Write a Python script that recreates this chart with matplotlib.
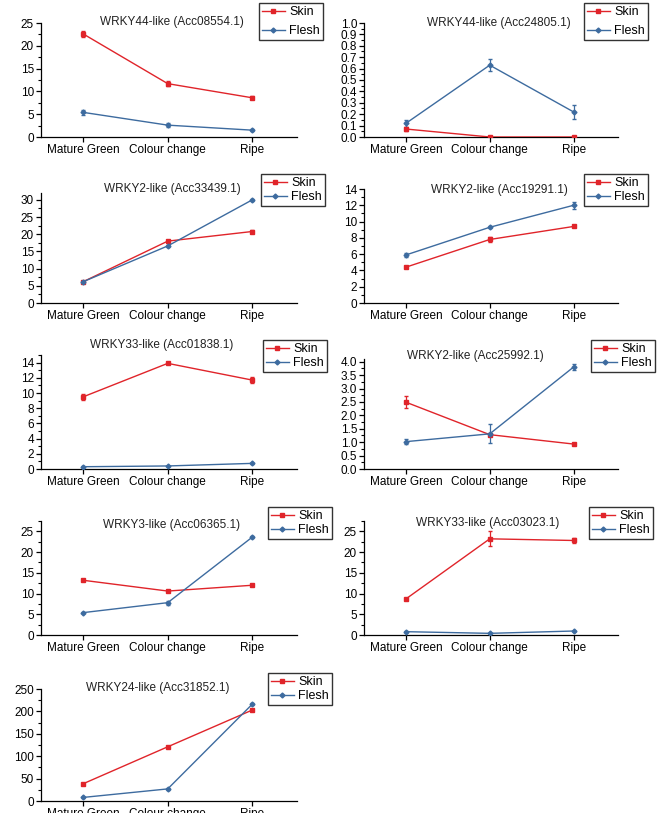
import matplotlib
matplotlib.use("Agg")
import matplotlib.pyplot as plt
from matplotlib.lines import Line2D
from matplotlib.ticker import MultipleLocator, FormatStrFormatter

plt.rcParams['font.family'] = ['Liberation Sans', 'DejaVu Sans']

W, H = 664, 813

stages = ["Mature Green", "Colour change", "Ripe"]

# Expression per gene: skin / flesh means and error bars
titles = [
    "WRKY44-like (Acc08554.1)", "WRKY44-like (Acc24805.1)",
    "WRKY2-like (Acc33439.1)", "WRKY2-like (Acc19291.1)",
    "WRKY33-like (Acc01838.1)", "WRKY2-like (Acc25992.1)",
    "WRKY3-like (Acc06365.1)", "WRKY33-like (Acc03023.1)",
    "WRKY24-like (Acc31852.1)",
]

skin_1 = [22.6, 11.7, 8.6]
skin_err_1 = [0.6, 0.6, 0.3]
flesh_1 = [5.4, 2.6, 1.5]
flesh_err_1 = [0.5, 0.5, 0.2]

skin_2 = [0.07, 0.0, 0.0]
skin_err_2 = [0.02, 0.0, 0.0]
flesh_2 = [0.12, 0.63, 0.22]
flesh_err_2 = [0.03, 0.05, 0.06]

skin_3 = [6.2, 18.0, 20.8]
skin_err_3 = [0.3, 0.4, 0.5]
flesh_3 = [6.2, 16.6, 30.0]
flesh_err_3 = [0.2, 0.3, 0.2]

skin_4 = [4.4, 7.8, 9.4]
skin_err_4 = [0.15, 0.3, 0.1]
flesh_4 = [5.9, 9.3, 12.0]
flesh_err_4 = [0.2, 0.1, 0.4]

skin_5 = [9.5, 13.9, 11.7]
skin_err_5 = [0.4, 0.15, 0.35]
flesh_5 = [0.3, 0.4, 0.74]
flesh_err_5 = [0.05, 0.05, 0.05]

skin_6 = [2.49, 1.28, 0.93]
skin_err_6 = [0.23, 0.05, 0.04]
flesh_6 = [1.02, 1.31, 3.80]
flesh_err_6 = [0.08, 0.35, 0.1]

skin_7 = [13.2, 10.6, 12.0]
skin_err_7 = [0.2, 0.3, 0.2]
flesh_7 = [5.4, 7.8, 23.6]
flesh_err_7 = [0.2, 0.5, 0.3]

skin_8 = [8.7, 23.2, 22.8]
skin_err_8 = [0.2, 1.8, 0.5]
flesh_8 = [0.8, 0.4, 0.96]
flesh_err_8 = [0.05, 0.05, 0.05]

skin_9 = [38.6, 121.0, 203.0]
skin_err_9 = [2.0, 2.0, 3.0]
flesh_9 = [8.0, 27.0, 216.0]
flesh_err_9 = [1.0, 2.0, 2.0]

skins = [skin_1, skin_2, skin_3, skin_4, skin_5, skin_6, skin_7, skin_8, skin_9]
skin_errs = [skin_err_1, skin_err_2, skin_err_3, skin_err_4, skin_err_5,
             skin_err_6, skin_err_7, skin_err_8, skin_err_9]
fleshes = [flesh_1, flesh_2, flesh_3, flesh_4, flesh_5, flesh_6, flesh_7, flesh_8, flesh_9]
flesh_errs = [flesh_err_1, flesh_err_2, flesh_err_3, flesh_err_4, flesh_err_5,
              flesh_err_6, flesh_err_7, flesh_err_8, flesh_err_9]

# y-axis settings per panel: (top, major step, minor step, format)
yaxes = [
    (25, 5, 2.5, "%d"), (1.0, 0.1, 0.05, "%.1f"),
    (32, 5, 2.5, "%d"), (14, 2, 1, "%d"),
    (15, 2, 1, "%d"), (4.1, 0.5, 0.25, "%.1f"),
    (27.5, 5, 2.5, "%d"), (27.5, 5, 2.5, "%d"),
    (250, 50, 25, "%d"),
]

# Layout in pixels
cols = [(41, 297), (364, 618)]
rows_bottom = [137, 303, 469, 635, 801]
axes_heights = [114, 114, 110, 114, 114, 110, 114, 114, 112]
title_pos = [(172, 22), (499, 23), (172, 189), (499, 190), (162, 345),
             (475, 356), (172, 525), (488, 523), (158, 688)]
legend_pos = [(259, 3), (584, 3), (261, 174), (584, 174), (263, 340),
              (591, 340), (268, 507), (589, 507), (268, 673)]
legend_spacing = [0.55, 0.55, 0.15, 0.15, 0.15, 0.15, 0.15, 0.15, 0.15]

SKIN = "#e0242a"
FLESH = "#3d6b9f"
FS = 8.5

fig = plt.figure(figsize=(W / 100, H / 100), dpi=100)

legend_handles = [
    Line2D([], [], color=SKIN, lw=1.0, marker="s", ms=3),
    Line2D([], [], color=FLESH, lw=1.0, marker="D", ms=2.5),
]

x = list(range(len(stages)))
for i in range(9):
    r, c = divmod(i, 2)
    left, right = cols[c]
    bottom = rows_bottom[r]
    top = bottom - axes_heights[i]
    ax = fig.add_axes([left / W, 1 - bottom / H, (right - left) / W, (bottom - top) / H])
    ax.errorbar(x, skins[i], yerr=skin_errs[i], color=SKIN, lw=1.0, marker="s",
                ms=3, capsize=1.5, elinewidth=0.9, zorder=3)
    ax.errorbar(x, fleshes[i], yerr=flesh_errs[i], color=FLESH, lw=1.0, marker="D",
                ms=2.5, capsize=1.5, elinewidth=0.9, zorder=3)
    ymax, major, minor, fmt = yaxes[i]
    ax.set_ylim(0, ymax)
    ax.set_xlim(-0.5, 2.53)
    ax.yaxis.set_major_locator(MultipleLocator(major))
    ax.yaxis.set_minor_locator(MultipleLocator(minor))
    ax.yaxis.set_major_formatter(FormatStrFormatter(fmt))
    ax.set_xticks(x)
    ax.set_xticklabels(stages)
    for s in ("top", "right"):
        ax.spines[s].set_visible(False)
    for s in ("left", "bottom"):
        ax.spines[s].set_linewidth(0.9)
    ax.tick_params(axis="both", which="major", direction="out", length=3.5,
                   width=0.9, labelsize=FS, pad=1.5)
    ax.tick_params(axis="y", which="minor", direction="out", length=2, width=0.8)
    ax.tick_params(axis="x", which="minor", length=0)
    ax.patch.set_alpha(0)

    tx, ty = title_pos[i]
    fig.text(tx / W, 1 - ty / H, titles[i], ha="center", va="center", fontsize=FS, color="#222222")

    lx, ly = legend_pos[i]
    leg = fig.legend(legend_handles, ["Skin", "Flesh"], loc="upper left",
                     bbox_to_anchor=(lx / W, 1 - ly / H),
                     fontsize=FS + 0.5, frameon=True, fancybox=False, borderpad=0.25,
                     handlelength=1.8, handletextpad=0.35,
                     labelspacing=legend_spacing[i], borderaxespad=0)
    leg.get_frame().set_edgecolor("black")
    leg.get_frame().set_linewidth(1.0)

fig.savefig("out.png", dpi=100, facecolor="white")
